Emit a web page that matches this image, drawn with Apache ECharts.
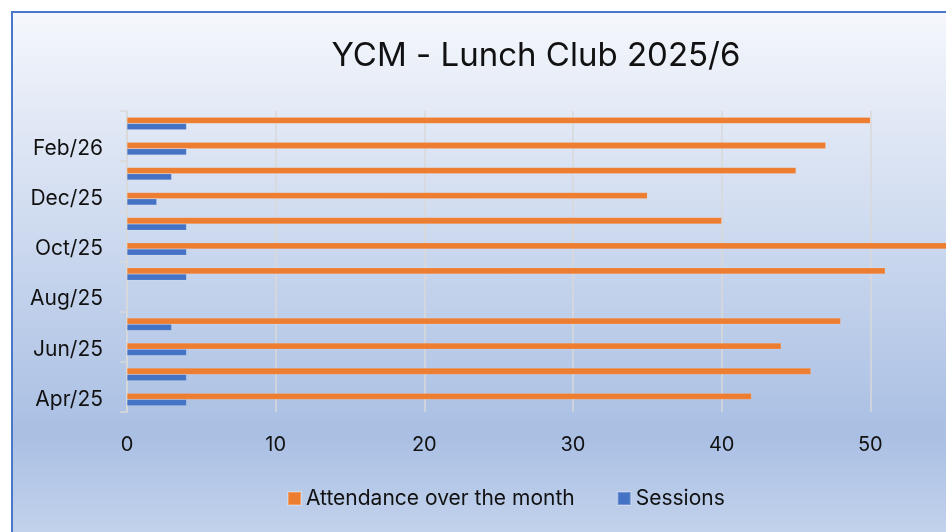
<!DOCTYPE html>
<html>
<head>
<meta charset="utf-8">
<title>YCM - Lunch Club 2025/6</title>
<script src="https://cdn.jsdelivr.net/npm/echarts@6/dist/echarts.min.js"></script>
<style>
    html, body { margin: 0; padding: 0; background: #fff; }
    #chart { width: 946px; height: 532px; }
</style>
</head>
<body>
<div id="chart"></div>
<script>
// months, bottom to top on the axis
var months = ['Apr/25', 'May/25', 'Jun/25', 'Jul/25', 'Aug/25', 'Sep/25',
              'Oct/25', 'Nov/25', 'Dec/25', 'Jan/26', 'Feb/26', 'Mar/26'];
// no club in August
var attendance = [42, 46, 44, 48, null, 51, 56, 40, 35, 45, 47, 50];
var sessions = [4, 4, 4, 3, null, 4, 4, 4, 2, 3, 4, 4];
var xTicks = [0, 10, 20, 30, 40, 50, 60];

var FONT = 'Inter, "Noto Sans", sans-serif';
var GRID_LINE = '#d9d9d9';

/**
 * office style panel: gradient fill, blue edge, runs off the right/bottom
 */
var panel = {
    type: 'rect',
    silent: true,
    z: -10,
    shape: { x: 12, y: 12, width: 1000, height: 540 },
    style: {
        fill: new echarts.graphic.LinearGradient(0, 0, 0, 1, [
            { offset: 0, color: '#f5f7fc' },
            { offset: 0.78, color: '#a9bfe3' },
            { offset: 1, color: '#c7d6ee' }
        ]),
        stroke: '#4a78c8',
        lineWidth: 2
    }
};

var chart = echarts.init(document.getElementById('chart'), null, { renderer: 'canvas' });

chart.setOption({
    backgroundColor: '#ffffff',
    animation: false,
    textStyle: { fontFamily: FONT },
    graphic: [panel],
    title: {
        text: 'YCM - Lunch Club 2025/6',
        left: 531,
        top: 35,
        textAlign: 'center',
        textStyle: { fontSize: 33, fontWeight: 'normal', color: '#111', fontFamily: FONT }
    },
    legend: {
        data: ['Attendance over the month', 'Sessions'],
        left: 282,
        top: 483,
        icon: 'rect',
        itemWidth: 13,
        itemHeight: 13,
        itemGap: 42,
        textStyle: { fontSize: 21, color: '#111', fontFamily: FONT }
    },
    grid: {
        left: 127,
        top: 111,
        bottom: 120,
        width: 892,
        containLabel: false,
        outerBoundsMode: 'none'
    },
    xAxis: {
        type: 'value',
        min: xTicks[0],
        max: xTicks[xTicks.length - 1],
        interval: 10,
        axisLine: { show: false },
        axisTick: { show: false },
        axisLabel: { fontSize: 20, color: '#111', margin: 23, fontFamily: FONT },
        splitLine: { show: true, lineStyle: { color: GRID_LINE, width: 1.5 } }
    },
    yAxis: {
        type: 'category',
        data: months,
        axisLine: { show: true, lineStyle: { color: GRID_LINE, width: 1.5 } },
        axisTick: { show: true, interval: 1, length: 7, lineStyle: { color: GRID_LINE, width: 1.5 } },
        axisLabel: { interval: 1, fontSize: 21, color: '#111', margin: 24, fontFamily: FONT },
        splitLine: { show: false }
    },
    series: [
        {
            name: 'Attendance over the month',
            type: 'bar',
            data: attendance,
            barWidth: 6.3,
            barGap: '0%',
            itemStyle: { color: '#ed7d31', borderColor: 'rgba(255,255,255,0.25)', borderWidth: 0.5 }
        },
        {
            name: 'Sessions',
            type: 'bar',
            data: sessions,
            barWidth: 6.3,
            barGap: '0%',
            itemStyle: { color: '#4472c4', borderColor: 'rgba(255,255,255,0.25)', borderWidth: 0.5 }
        }
    ]
});
</script>
</body>
</html>
